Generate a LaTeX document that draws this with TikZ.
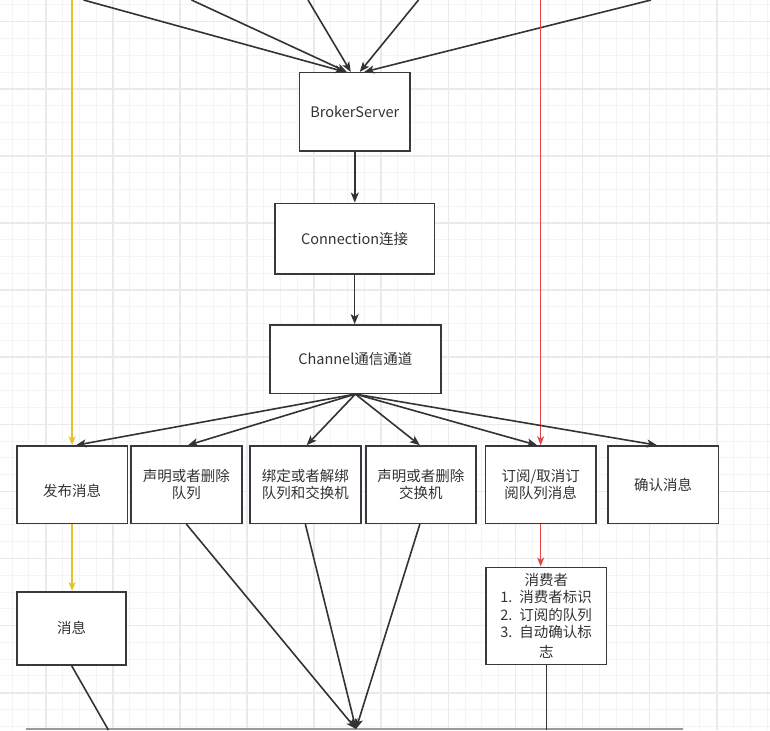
\documentclass[tikz,border=0pt]{standalone}
\usepackage{fontspec}
\setmainfont{Noto Sans CJK SC}
\usetikzlibrary{arrows.meta,calc}
\definecolor{ink}{HTML}{333333}
\definecolor{border}{HTML}{36393D}
\definecolor{gmin}{HTML}{F4F4F4}
\definecolor{gmaj}{HTML}{EAEAEA}
\definecolor{ylw}{HTML}{E5C12E}
\definecolor{rd}{HTML}{E64545}
\definecolor{baseline}{HTML}{9A9A9A}
\tikzset{
  box/.style={draw=border, line width=1.6pt, fill=white, rectangle, inner sep=0pt,
    align=center, text=ink, font=\fontsize{14.5}{17.5}\selectfont},
  link/.style={draw=ink, line width=1.6pt, -{Stealth[length=10pt,width=8pt,inset=2.5pt]}},
  plain/.style={draw=ink, line width=1.6pt},
  ylink/.style={draw=ylw, line width=1.4pt, -{Stealth[length=9pt,width=7pt,inset=2.5pt]}},
  rlink/.style={draw=rd, line width=1.4pt, -{Stealth[length=9pt,width=7pt,inset=2.5pt]}},
  gridmin/.style={draw=gmin, line width=1pt},
  gridmaj/.style={draw=gmaj, line width=1.6pt}
}
\begin{document}
\begin{tikzpicture}[x=1pt,y=-1pt]
\useasboundingbox (0,0) rectangle (770,730);
\fill[white] (0,0) rectangle (770,730);
% grid
\foreach \i in {-3,...,44} {
  \draw[gridmin] ({45.7+\i*16.775},0) -- ({45.7+\i*16.775},730);
}
\foreach \i in {-2,...,43} {
  \draw[gridmin] (0,{21.7+\i*16.775}) -- (770,{21.7+\i*16.775});
}
\foreach \j in {-1,...,11} {
  \draw[gridmaj] ({45.7+\j*67.1},0) -- ({45.7+\j*67.1},730);
  \draw[gridmaj] (0,{21.7+\j*67.1}) -- (770,{21.7+\j*67.1});
}

% nodes
\node[box, minimum width=110.4pt, minimum height=78.3pt] (broker) at (354.8,111.85) {BrokerServer};
\node[box, minimum width=159.3pt, minimum height=70.7pt] (conn) at (354.65,238.65) {Connection连接};
\node[box, minimum width=170.7pt, minimum height=68.3pt] (chan) at (355.35,359.15) {Channel通信通道};

\node[box, minimum width=110.6pt, minimum height=77.3pt] (pub) at (72.05,484.65) {\vphantom{发}\smash{\raisebox{-6pt}{发布消息}}};
\node[box, minimum width=110.7pt, minimum height=77.3pt] (dq) at (186.35,484.65) {声明或者删除\\队列};
\node[box, minimum width=110.7pt, minimum height=77.3pt] (bind) at (305.35,484.65) {绑定或者解绑\\队列和交换机};
\node[box, minimum width=110.3pt, minimum height=77.3pt] (dx) at (420.85,484.65) {声明或者删除\\交换机};
\node[box, minimum width=110.7pt, minimum height=77.3pt] (sub) at (540.65,484.65) {订阅/取消订\\阅队列消息};
\node[box, minimum width=110.6pt, minimum height=77.3pt] (ack) at (663.0,484.65) {确认消息};

\node[box, minimum width=109pt, minimum height=73.3pt] (msg) at (71.7,628.35) {消息};
\node[box, minimum width=120.4pt, minimum height=97pt] (cons) at (546.4,615.8)
  {\makebox[92pt]{消费者}\\
   \makebox[92pt][l]{\makebox[19pt][l]{1.}消费者标识}\\
   \makebox[92pt][l]{\makebox[19pt][l]{2.}订阅的队列}\\
   \makebox[92pt][l]{\makebox[19pt][l]{3.}自动确认标}\\[2.5pt]
   \makebox[92pt]{志}};

% free ends
\coordinate (t1) at (83.5,0);
\coordinate (t2) at (191.5,0);
\coordinate (t3) at (308,0);
\coordinate (t4) at (418.5,0);
\coordinate (t5) at (651,0);
\coordinate (ytop) at (72.05,0);
\coordinate (rtop) at (540.65,0);
\coordinate (sink) at (356,729);
\coordinate (mexit) at (108.4,730);
\coordinate (cexit) at (546.4,730);
\coordinate (bl) at (25.5,729);
\coordinate (br) at (683,729);

% bottom gray line
\draw[draw=baseline, line width=1.5pt] (bl) -- (br);

% top arrows into broker
\draw[link] (t1) -- ([xshift=-9.8pt]broker.north);
\draw[link] (t2) -- ([xshift=-8pt]broker.north);
\draw[link] (t3) -- ([xshift=-4pt]broker.north);
\draw[link] (t4) -- ([xshift=5pt]broker.north);
\draw[link] (t5) -- ([xshift=9.5pt]broker.north);

% coloured lines
\draw[ylink] (ytop) -- (pub.north);
\draw[rlink] (rtop) -- (sub.north);
\draw[ylink] (pub.south) -- (pub.south |- msg.north);
\draw[rlink] (sub.south) -- (sub.south |- cons.north);

% chain
\draw[link] (broker.south) -- (broker.south |- conn.north);
\draw[link] (conn.south) -- (conn.south |- chan.north);

% fan out from channel
\draw[link] (chan.south) -- ([xshift=4pt]pub.north);
\draw[link] (chan.south) -- ([xshift=1.6pt]dq.north);
\draw[link] (chan.south) -- ([xshift=1.3pt]bind.north);
\draw[link] (chan.south) -- ([xshift=-1pt]dx.north);
\draw[link] (chan.south) -- ([xshift=-3.6pt]sub.north);
\draw[link] (chan.south) -- ([xshift=-6pt]ack.north);

% converge at bottom
\draw[link] (dq.south) -- (sink);
\draw[link] (bind.south) -- (sink);
\draw[link] ([xshift=-1pt]dx.south) -- (sink);
\draw[plain] (msg.south) -- (mexit);
\draw[plain] (cons.south) -- (cexit);
\end{tikzpicture}
\end{document}
